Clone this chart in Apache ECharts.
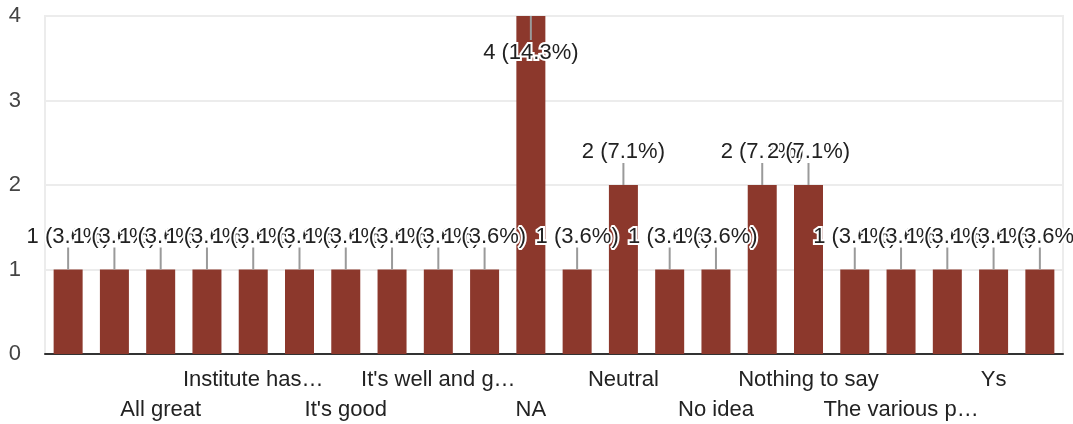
<!DOCTYPE html>
<html>
<head>
<meta charset="utf-8">
<script src="https://cdn.jsdelivr.net/npm/echarts@6/dist/echarts.min.js"></script>
<style>
html,body{margin:0;padding:0;background:#fff;}
#chart{width:1073px;height:424px;}
</style>
</head>
<body>
<div id="chart"></div>
<script>
// Categories (only every second one is labelled in the reference)
const categories = ['', '', 'All great', '', 'Institute has…', '', "It's good", '', "It's well and g…", '', 'NA', '', 'Neutral', '', 'No idea', '', 'Nothing to say', '', 'The various p…', '', 'Ys', ''];
const counts = [1, 1, 1, 1, 1, 1, 1, 1, 1, 1, 4, 1, 2, 1, 1, 2, 2, 1, 1, 1, 1, 1];
const yTicks = [0, 1, 2, 3, 4];

const total = counts.reduce((a, b) => a + b, 0);
const maxVal = Math.max(...counts);
const FONT = '"Liberation Sans", Arial, sans-serif';

const barData = counts.map(v => {
  if (v === maxVal) {
    return { value: v, label: { position: 'insideTop', distance: 26 } };
  }
  return { value: v };
});

const labelBase = {
  hideOverlap: false,
  showMinLabel: true,
  showMaxLabel: true,
  fontFamily: FONT,
  fontSize: 22,
  color: '#222'
};

const chart = echarts.init(document.getElementById('chart'), null, { renderer: 'canvas' });
chart.setOption({
  animation: false,
  backgroundColor: '#ffffff',
  grid: {
    left: 45, right: 10, top: 16, bottom: 70,
    show: true, borderColor: '#ececec', borderWidth: 2, backgroundColor: 'transparent'
  },
  xAxis: [
    {
      type: 'category',
      data: categories,
      position: 'bottom',
      axisLine: { show: true, lineStyle: { color: '#333', width: 2 } },
      axisTick: { show: false },
      axisLabel: Object.assign({}, labelBase, {
        interval: (i) => i > 0 && i % 4 === 0,
        margin: 15
      })
    },
    {
      type: 'category',
      data: categories,
      position: 'bottom',
      axisLine: { show: false },
      axisTick: { show: false },
      splitLine: { show: false },
      axisLabel: Object.assign({}, labelBase, {
        interval: (i) => i % 4 === 2,
        margin: 45
      })
    }
  ],
  yAxis: {
    type: 'value',
    min: yTicks[0], max: yTicks[yTicks.length - 1], interval: 1,
    axisLine: { show: false },
    axisTick: { show: false },
    splitLine: { lineStyle: { color: '#ececec', width: 2 } },
    axisLabel: { fontFamily: FONT, fontSize: 22, color: '#444', margin: 24 }
  },
  series: [
    {
      type: 'bar',
      data: barData,
      barWidth: 29,
      z: 2,
      itemStyle: { color: '#8c382c' },
      label: {
        show: true,
        position: 'top',
        distance: 22,
        fontFamily: FONT,
        fontSize: 22,
        color: '#222',
        textBorderColor: '#fff',
        textBorderWidth: 4,
        formatter: (p) => p.value + ' (' + (p.value / total * 100).toFixed(1) + '%)'
      }
    },
    {
      type: 'custom',
      z: 3,
      silent: true,
      data: counts.map((v, i) => [i, v]),
      renderItem: (params, api) => {
        const i = api.value(0), v = api.value(1);
        const p = api.coord([i, v]);
        const len = v === maxVal ? 24 : -22;
        return {
          type: 'line',
          shape: { x1: p[0], y1: p[1], x2: p[0], y2: p[1] + len },
          style: { stroke: '#9a9a9a', lineWidth: 2 }
        };
      }
    }
  ]
});
</script>
</body>
</html>
